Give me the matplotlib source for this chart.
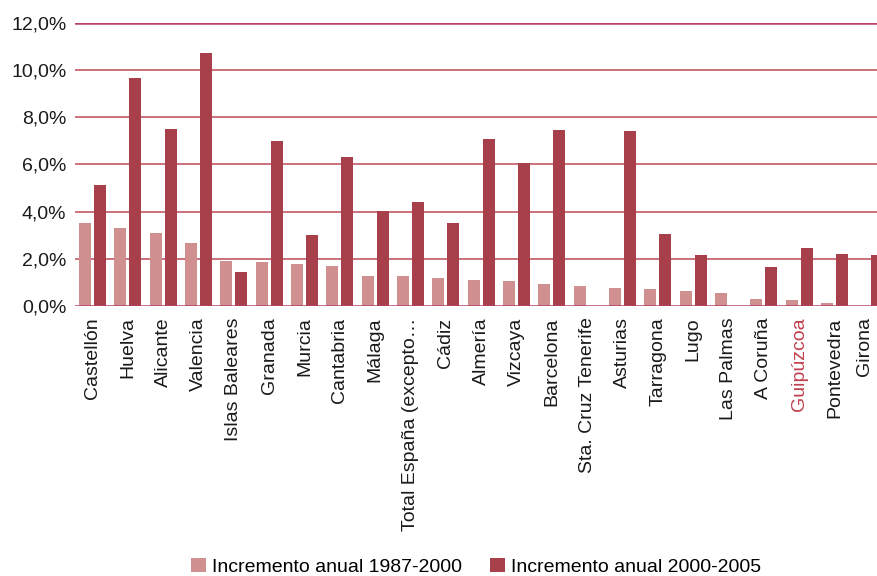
import matplotlib.pyplot as plt
import matplotlib.transforms as mtransforms
import numpy as np
from matplotlib.ticker import FuncFormatter

# Provincias
provincias = ["Castellón", "Huelva", "Alicante", "Valencia", "Islas Baleares", "Granada",
              "Murcia", "Cantabria", "Málaga", "Total España (excepto…", "Cádiz", "Almería",
              "Vizcaya", "Barcelona", "Sta. Cruz Tenerife", "Asturias", "Tarragona", "Lugo",
              "Las Palmas", "A Coruña", "Guipúzcoa", "Pontevedra", "Girona"]

# Incremento anual (%)
inc_1987_2000 = [3.52, 3.31, 3.10, 2.68, 1.92, 1.87, 1.79, 1.71, 1.28, 1.28, 1.20, 1.11,
                 1.07, 0.94, 0.86, 0.79, 0.73, 0.63, 0.56, 0.31, 0.25, 0.14, 0.0]
inc_2000_2005 = [5.13, 9.66, 7.50, 10.72, 1.45, 7.00, 3.02, 6.32, 4.03, 4.41, 3.52, 7.08,
                 6.06, 7.46, 0.0, 7.42, 3.06, 2.17, 0.0, 1.66, 2.47, 2.21, 2.17]

series_labels = ["Incremento anual 1987-2000", "Incremento anual 2000-2005"]

plt.rcParams['font.family'] = ['Liberation Sans', 'DejaVu Sans']

fig = plt.figure(figsize=(8.77, 5.76), dpi=100)
# axes is wider than the figure on purpose: the last bar is clipped in the original
ax = fig.add_axes([74.8 / 877, 1 - 306.3 / 576, 812.7 / 877, (306.3 - 22.7) / 576])

x = np.arange(len(provincias))
w = 0.34
light = '#d09090'
dark = '#a8404c'
ax.bar(x - 0.21, inc_1987_2000, w, color=light, label=series_labels[0], zorder=3)
ax.bar(x + 0.21, inc_2000_2005, w, color=dark, label=series_labels[1], zorder=3)

ax.set_xlim(-0.5, len(provincias) - 0.5)
ax.set_ylim(0, 12)
ax.set_yticks(np.arange(0, 12.1, 2))
ax.yaxis.set_major_formatter(FuncFormatter(lambda v, p: f"{v:.1f}%".replace('.', ',')))
for yv in np.arange(2, 12, 2):
    ax.axhline(yv, color='#c86470', lw=1.3, zorder=1)
ax.axhline(12, color='#b8406a', lw=1.8, zorder=1)
ax.axhline(0, color='#b8406a', lw=1.8, zorder=4)

for s in ax.spines.values():
    s.set_visible(False)
ax.tick_params(length=0, labelsize=14, colors='#1a1a1a')
ax.tick_params(axis='y', pad=6)
ax.tick_params(axis='x', pad=8)
ax.set_xticks(x)
ax.set_xticklabels(provincias, rotation=90, va='top', ha='center')
labels = ax.get_xticklabels()
labels[provincias.index("Guipúzcoa")].set_color('#c0404c')
# last label pulled inside the figure, as in the original
last = labels[-1]
last.set_transform(last.get_transform() + mtransforms.ScaledTranslation(-5 / 100, 0, fig.dpi_scale_trans))

fig.legend(loc='center', bbox_to_anchor=(476 / 877, 1 - 567 / 576), ncol=2,
           frameon=False, fontsize=14, handlelength=0.77, handleheight=0.72,
           handletextpad=0.3, columnspacing=1.44, borderpad=0, borderaxespad=0)

fig.savefig('out.png', dpi=100)
